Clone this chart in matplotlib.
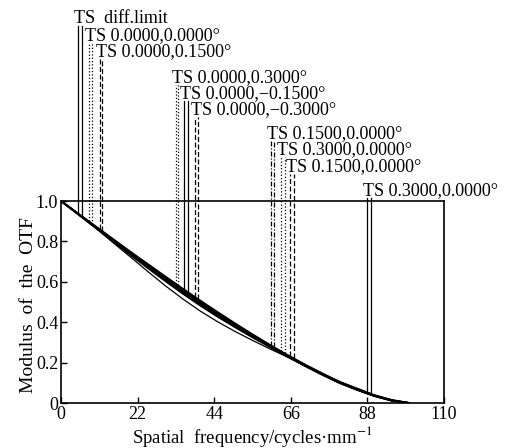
import numpy as np
import matplotlib.pyplot as plt

plt.rcParams['font.family'] = ['Liberation Serif', 'DejaVu Serif']
plt.rcParams['mathtext.fontset'] = 'stix'

# MTF curves (spatial frequency in cycles/mm)
freq = [0, 5, 10, 15, 20, 25, 30, 35, 40, 45, 50, 55, 60, 65, 70, 75, 80, 85, 90, 95, 100]
mtf_diff = [1.00, 0.937, 0.874, 0.811, 0.748, 0.687, 0.626, 0.566, 0.507, 0.450, 0.394,
            0.340, 0.288, 0.238, 0.191, 0.147, 0.105, 0.072, 0.039, 0.015, 0.0]
mtf_a = [1.00, 0.936, 0.872, 0.808, 0.744, 0.682, 0.620, 0.560, 0.501, 0.444, 0.389,
         0.336, 0.285, 0.236, 0.189, 0.145, 0.104, 0.070, 0.038, 0.014, 0.0]
mtf_b = [1.00, 0.935, 0.870, 0.805, 0.740, 0.677, 0.614, 0.553, 0.494, 0.438, 0.384,
         0.332, 0.282, 0.234, 0.187, 0.143, 0.102, 0.068, 0.037, 0.013, 0.0]
mtf_c = [1.00, 0.934, 0.868, 0.802, 0.736, 0.672, 0.608, 0.547, 0.488, 0.432, 0.379,
         0.328, 0.279, 0.232, 0.185, 0.141, 0.100, 0.066, 0.035, 0.012, 0.0]
mtf_d = [1.00, 0.933, 0.866, 0.799, 0.732, 0.667, 0.603, 0.541, 0.482, 0.427, 0.375,
         0.325, 0.277, 0.230, 0.184, 0.140, 0.099, 0.065, 0.034, 0.011, 0.0]
mtf_low = [1.00, 0.935, 0.866, 0.793, 0.722, 0.650, 0.580, 0.515, 0.455, 0.402, 0.354,
           0.310, 0.268, 0.228, 0.184, 0.140, 0.099, 0.065, 0.034, 0.011, 0.0]

# labelled marker pairs (tangential / sagittal)
labels = ['TS  diff.limit', 'TS 0.0000,0.0000\u00b0', 'TS 0.0000,0.1500\u00b0',
          'TS 0.0000,0.3000\u00b0', 'TS 0.0000,\u22120.1500\u00b0', 'TS 0.0000,\u22120.3000\u00b0',
          'TS 0.1500,0.0000\u00b0', 'TS 0.3000,0.0000\u00b0', 'TS 0.1500,0.0000\u00b0',
          'TS 0.3000,0.0000\u00b0']
mark_x = [(4.9, 6.0), (8.0, 8.9), (11.2, 11.8), (33.0, 33.6), (35.3, 36.5), (38.5, 39.3),
          (60.3, 61.1), (63.2, 64.3), (65.8, 66.9), (88.0, 88.9)]
mark_bottom = [(0.938, 0.925), (0.899, 0.888), (0.859, 0.852), (0.588, 0.582), (0.562, 0.550),
               (0.524, 0.515), (0.282, 0.275), (0.258, 0.248), (0.234, 0.224), (0.052, 0.048)]
mark_top = [1.866, 1.782, 1.703, 1.574, 1.495, 1.416, 1.297, 1.218, 1.134, 1.015]
mark_style = ['-', ':', (0, (4, 2)), ':', '-', (0, (4, 2)),
              (0, (4, 1.5, 1, 1.5)), ':', (0, (4, 2)), '-']

fig = plt.figure(figsize=(5.07, 4.48), dpi=100)
ax = fig.add_axes([61 / 507, 45 / 448, 383 / 507, 202 / 448])

for curve in [mtf_diff, mtf_a, mtf_b, mtf_c, mtf_d]:
    ax.plot(freq, curve, color='black', lw=1.3)
ax.plot(freq, mtf_low, color='black', lw=0.9)

for i in range(len(labels)):
    for x, yb in zip(mark_x[i], mark_bottom[i]):
        ax.plot([x, x], [yb, mark_top[i]], color='black', lw=0.9,
                linestyle=mark_style[i], clip_on=False)
    ax.text(mark_x[i][0] - 1.2, mark_top[i] + 0.015, labels[i], fontsize=13,
            ha='left', va='baseline', clip_on=False)

ax.set_xlim(0, 110)
ax.set_ylim(0, 1)
ax.set_xticks([0, 22, 44, 66, 88, 110])
ax.set_yticks([0, 0.2, 0.4, 0.6, 0.8, 1.0])
ax.set_yticklabels(['0', '0.2', '0.4', '0.6', '0.8', '1.0'])
ax.tick_params(direction='in', length=4, width=1, labelsize=13, pad=2)
for s in ax.spines.values():
    s.set_linewidth(1.2)

ax.set_xlabel('Spatial  frequency/cycles\u00b7mm$^{-1}$', fontsize=13.5, va='bottom')
ax.set_ylabel('Modulus  of  the  OTF', fontsize=14)
ax.xaxis.set_label_coords(0.5, -0.228)
ax.yaxis.set_label_coords(-0.062, 0.485)

fig.savefig('out.png', dpi=100)
